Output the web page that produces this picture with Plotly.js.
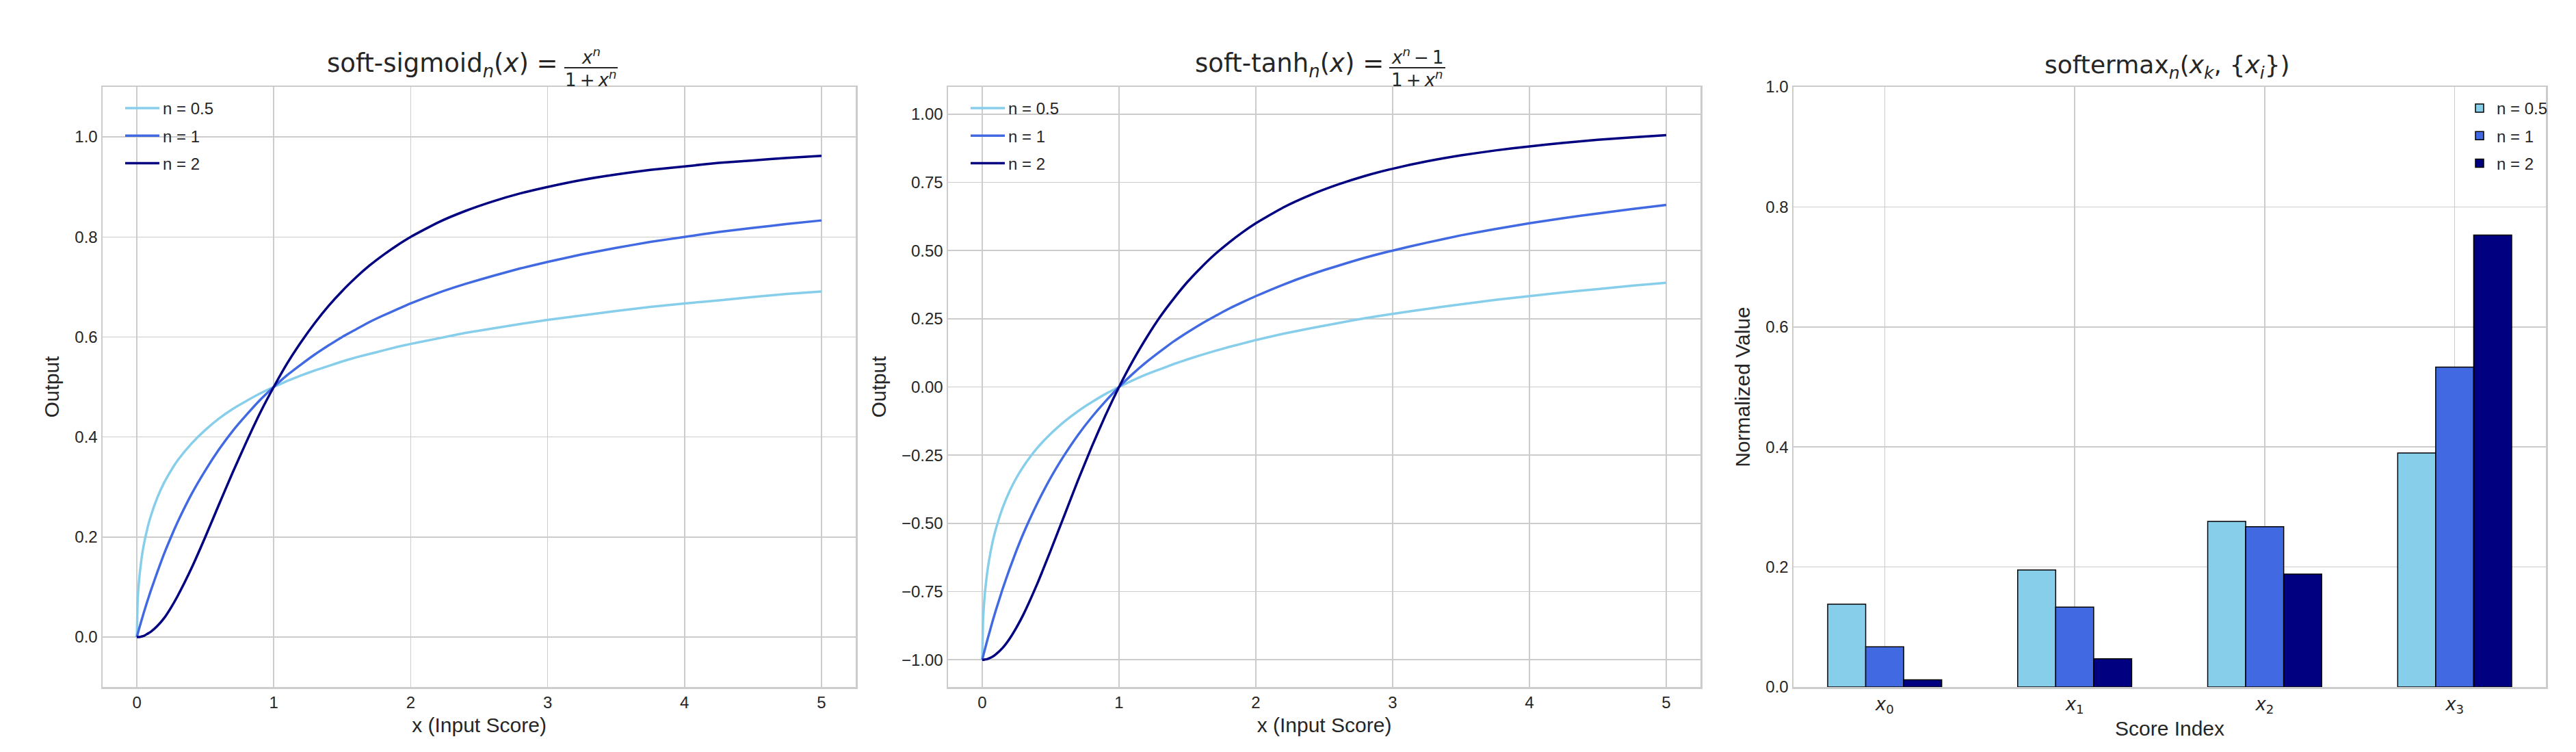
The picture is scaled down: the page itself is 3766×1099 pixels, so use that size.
<!DOCTYPE html>
<html>
<head>
<meta charset="utf-8">
<script src="https://cdn.plot.ly/plotly-3.0.1.min.js"></script>
<style>
  html, body { margin: 0; padding: 0; background: #fff; }
  #chart { width: 3766px; height: 1099px; }
</style>
</head>
<body>
<div id="chart"></div>
<script>
// sample points along the x axis (input score)
var xs = [0, 0.005, 0.01, 0.02, 0.035, 0.05, 0.075, 0.1, 0.15, 0.2, 0.25, 0.3, 0.4, 0.5, 0.6, 0.7, 0.8, 0.9,
          1.0, 1.1, 1.2, 1.3, 1.4, 1.5, 1.6, 1.7, 1.8, 1.9, 2.0, 2.2, 2.4, 2.6, 2.8, 3.0,
          3.25, 3.5, 3.75, 4.0, 4.25, 4.5, 4.75, 5.0];

// soft-sigmoid curves
var sigHalf = [0, 0.066, 0.091, 0.124, 0.158, 0.183, 0.215, 0.240, 0.279, 0.309, 0.333, 0.354, 0.387, 0.414, 0.437, 0.456, 0.472, 0.487,
               0.500, 0.512, 0.523, 0.533, 0.542, 0.551, 0.559, 0.566, 0.573, 0.580, 0.586, 0.597, 0.608, 0.617, 0.626, 0.634,
               0.643, 0.652, 0.660, 0.667, 0.673, 0.680, 0.686, 0.691];
var sigOne = [0, 0.005, 0.010, 0.020, 0.034, 0.048, 0.070, 0.091, 0.130, 0.167, 0.200, 0.231, 0.286, 0.333, 0.375, 0.412, 0.444, 0.474,
              0.500, 0.524, 0.545, 0.565, 0.583, 0.600, 0.615, 0.630, 0.643, 0.655, 0.667, 0.688, 0.706, 0.722, 0.737, 0.750,
              0.765, 0.778, 0.790, 0.800, 0.810, 0.818, 0.826, 0.833];
var sigTwo = [0, 0.000, 0.000, 0.000, 0.001, 0.002, 0.006, 0.010, 0.022, 0.038, 0.059, 0.083, 0.138, 0.200, 0.265, 0.329, 0.390, 0.448,
              0.500, 0.548, 0.590, 0.628, 0.662, 0.692, 0.719, 0.743, 0.764, 0.783, 0.800, 0.829, 0.852, 0.871, 0.887, 0.900,
              0.914, 0.925, 0.934, 0.941, 0.948, 0.953, 0.958, 0.962];

// soft-tanh curves
var tanhHalf = [-1, -0.868, -0.818, -0.752, -0.685, -0.635, -0.570, -0.520, -0.442, -0.382, -0.333, -0.292, -0.225, -0.172, -0.127, -0.089, -0.056, -0.026,
                0.000, 0.024, 0.046, 0.065, 0.084, 0.101, 0.117, 0.132, 0.146, 0.159, 0.172, 0.195, 0.215, 0.234, 0.252, 0.268,
                0.286, 0.303, 0.319, 0.333, 0.347, 0.359, 0.371, 0.382];
var tanhOne = [-1, -0.990, -0.980, -0.961, -0.932, -0.905, -0.860, -0.818, -0.739, -0.667, -0.600, -0.538, -0.429, -0.333, -0.250, -0.176, -0.111, -0.053,
               0.000, 0.048, 0.091, 0.130, 0.167, 0.200, 0.231, 0.259, 0.286, 0.310, 0.333, 0.375, 0.412, 0.444, 0.474, 0.500,
               0.529, 0.556, 0.579, 0.600, 0.619, 0.636, 0.652, 0.667];
var tanhTwo = [-1, -1.000, -1.000, -0.999, -0.998, -0.995, -0.989, -0.980, -0.956, -0.923, -0.882, -0.835, -0.724, -0.600, -0.471, -0.342, -0.220, -0.105,
               0.000, 0.095, 0.180, 0.257, 0.324, 0.385, 0.438, 0.486, 0.528, 0.566, 0.600, 0.658, 0.704, 0.742, 0.774, 0.800,
               0.827, 0.849, 0.867, 0.882, 0.895, 0.906, 0.915, 0.923];

// softermax bars (right panel)
var scoreIdx = [0, 1, 2, 3];
var scoreLabels = ['<i>x</i><sub>0</sub>', '<i>x</i><sub>1</sub>', '<i>x</i><sub>2</sub>', '<i>x</i><sub>3</sub>'];
var barHalf = [0.138, 0.195, 0.276, 0.390];
var barOne = [0.067, 0.133, 0.267, 0.533];
var barTwo = [0.012, 0.047, 0.188, 0.753];

var seriesNames = ['n = 0.5', 'n = 1', 'n = 2'];
var colours = ['#87CEEB', '#4169E1', '#000080'];

var W = 3766, H = 1099;
var FONT = 'Liberation Sans, Arial, sans-serif';
var MATH = 'DejaVu Sans, sans-serif';
var TXT = '#262626';
var GRID = '#cccccc';
var THIN = '\u2009';

function px(x) { return x / W; }
function py(y) { return 1 - y / H; }

var traces = [];
var sigSets = [sigHalf, sigOne, sigTwo];
var tanhSets = [tanhHalf, tanhOne, tanhTwo];
var barSets = [barHalf, barOne, barTwo];

for (var i = 0; i < 3; i++) {
    traces.push({
        x: xs, y: sigSets[i], name: seriesNames[i], type: 'scatter', mode: 'lines',
        line: {color: colours[i], width: 3.5, shape: 'spline', smoothing: 0.5},
        xaxis: 'x', yaxis: 'y', legend: 'legend', legendgroup: 'a' + i
    });
}
for (var j = 0; j < 3; j++) {
    traces.push({
        x: xs, y: tanhSets[j], name: seriesNames[j], type: 'scatter', mode: 'lines',
        line: {color: colours[j], width: 3.5, shape: 'spline', smoothing: 0.5},
        xaxis: 'x2', yaxis: 'y2', legend: 'legend2', legendgroup: 'b' + j
    });
}
for (var k = 0; k < 3; k++) {
    traces.push({
        x: scoreIdx, y: barSets[k], name: seriesNames[k], type: 'bar',
        marker: {color: colours[k], line: {color: '#000000', width: 1.5}},
        xaxis: 'x3', yaxis: 'y3', legend: 'legend3', legendgroup: 'c' + k
    });
}

var yDom = [py(1004), py(127)];

function baseAxis(extra) {
    var ax = {
        showgrid: true, gridcolor: GRID, gridwidth: 1.5,
        zeroline: false, showline: true, mirror: true, linecolor: GRID, linewidth: 2.5,
        ticks: '', tickfont: {family: FONT, size: 24, color: TXT},
        fixedrange: true
    };
    for (var key in extra) ax[key] = extra[key];
    return ax;
}

function axTitle(t, standoff) {
    return {text: t, font: {family: FONT, size: 30, color: TXT}, standoff: standoff};
}

function legendAt(x, anchor, itemw) {
    return {x: px(x), y: py(136), xanchor: anchor, yanchor: 'top', bgcolor: 'rgba(0,0,0,0)',
        tracegroupgap: 6, itemwidth: itemw, font: {family: FONT, size: 24, color: TXT}};
}

var layout = {
    width: W, height: H,
    margin: {l: 0, r: 0, t: 0, b: 0},
    paper_bgcolor: '#ffffff',
    plot_bgcolor: '#ffffff',
    font: {family: FONT, color: TXT},
    barmode: 'group', bargap: 0.4, bargroupgap: 0,

    xaxis: baseAxis({domain: [px(150), px(1251)], range: [-0.25, 5.25], tickvals: [0, 1, 2, 3, 4, 5],
        anchor: 'y', title: axTitle('x (Input Score)', 10)}),
    yaxis: baseAxis({domain: yDom, range: [-0.1, 1.1], tickvals: [0, 0.2, 0.4, 0.6, 0.8, 1.0], tickformat: '.1f',
        anchor: 'x', title: axTitle('Output', 14)}),

    xaxis2: baseAxis({domain: [px(1386), px(2486)], range: [-0.25, 5.25], tickvals: [0, 1, 2, 3, 4, 5],
        anchor: 'y2', title: axTitle('x (Input Score)', 10)}),
    yaxis2: baseAxis({domain: yDom, range: [-1.1, 1.1], tickvals: [-1, -0.75, -0.5, -0.25, 0, 0.25, 0.5, 0.75, 1.0],
        tickformat: '.2f', anchor: 'x2', title: axTitle('Output', 14)}),

    xaxis3: baseAxis({domain: [px(2622), px(3722)], range: [-0.48, 3.48], tickvals: scoreIdx, ticktext: scoreLabels,
        tickfont: {family: MATH, size: 26, color: TXT},
        anchor: 'y3', title: axTitle('Score Index', 8)}),
    yaxis3: baseAxis({domain: yDom, range: [0, 1.0], tickvals: [0, 0.2, 0.4, 0.6, 0.8, 1.0], tickformat: '.1f',
        anchor: 'x3', title: axTitle('Normalized Value', 14)}),

    legend: legendAt(178, 'left', 50),
    legend2: legendAt(1414, 'left', 50),
    legend3: legendAt(3730, 'right', 40),

    annotations: [
        // left title
        {xref: 'paper', yref: 'paper', x: px(818), y: py(95), xanchor: 'right', yanchor: 'middle', showarrow: false,
         text: 'soft-sigmoid<sub><i>n</i></sub>(<i>x</i>) =', font: {family: MATH, size: 37, color: TXT}},
        {xref: 'paper', yref: 'paper', x: px(864), y: py(82), xanchor: 'center', yanchor: 'middle', showarrow: false,
         text: '<i>x<sup>n</sup></i>', font: {family: MATH, size: 26, color: TXT}},
        {xref: 'paper', yref: 'paper', x: px(864), y: py(115), xanchor: 'center', yanchor: 'middle', showarrow: false,
         text: '1' + THIN + '+' + THIN + '<i>x<sup>n</sup></i>', font: {family: MATH, size: 26, color: TXT}},
        // middle title
        {xref: 'paper', yref: 'paper', x: px(2025), y: py(95), xanchor: 'right', yanchor: 'middle', showarrow: false,
         text: 'soft-tanh<sub><i>n</i></sub>(<i>x</i>) =', font: {family: MATH, size: 37, color: TXT}},
        {xref: 'paper', yref: 'paper', x: px(2072), y: py(82), xanchor: 'center', yanchor: 'middle', showarrow: false,
         text: '<i>x<sup>n</sup></i>' + THIN + '\u2212' + THIN + '1', font: {family: MATH, size: 26, color: TXT}},
        {xref: 'paper', yref: 'paper', x: px(2072), y: py(115), xanchor: 'center', yanchor: 'middle', showarrow: false,
         text: '1' + THIN + '+' + THIN + '<i>x<sup>n</sup></i>', font: {family: MATH, size: 26, color: TXT}},
        // right title
        {xref: 'paper', yref: 'paper', x: px(3168), y: py(98), xanchor: 'center', yanchor: 'middle', showarrow: false,
         text: 'softermax<sub><i>n</i></sub>(<i>x</i><sub><i>k</i></sub>, {<i>x</i><sub><i>i</i></sub>})',
         font: {family: MATH, size: 36, color: TXT}}
    ],
    shapes: [
        {type: 'line', xref: 'paper', yref: 'paper', x0: px(825), x1: px(903), y0: py(99), y1: py(99),
         line: {color: TXT, width: 2}},
        {type: 'line', xref: 'paper', yref: 'paper', x0: px(2031), x1: px(2113), y0: py(99), y1: py(99),
         line: {color: TXT, width: 2}}
    ]
};

Plotly.newPlot('chart', traces, layout, {displayModeBar: false, staticPlot: true});
</script>
</body>
</html>
